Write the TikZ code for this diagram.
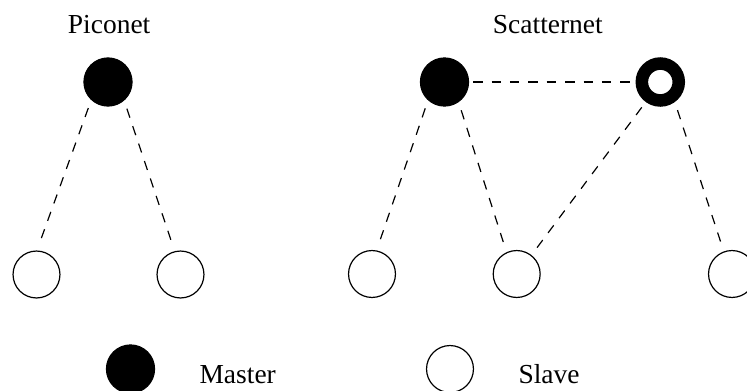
\documentclass[tikz,border=0pt]{standalone}
\usepackage{fontspec}
\setmainfont{Liberation Serif}
\begin{document}
\begin{tikzpicture}[x=0.75pt,y=-0.75pt,
  master/.style={circle,draw=black,fill=black,line width=0.75pt,inner sep=0pt,minimum size=36.2pt},
  slave/.style={circle,draw=black,fill=white,line width=0.9pt,inner sep=0pt,minimum size=35.2pt},
  bridge/.style={circle,draw=black,fill=white,line width=9.4pt,inner sep=0pt,minimum size=27.7pt},
  dashlink/.style={dash pattern=on 7.1pt off 6.7pt,line width=0.9pt,shorten <=6.4pt,shorten >=6.4pt},
  txt/.style={anchor=base west,inner sep=0pt,font=\fontsize{20.6pt}{24pt}\selectfont}]
\useasboundingbox (0,0) rectangle (747,390);

% Piconet: one master, two slaves
\node[txt] (tpico) at (67.7,33.3) {Piconet};
\node[master] (pm) at (108,82) {};
\node[slave] (ps1) at (36.5,274.5) {};
\node[slave] (ps2) at (180.5,274.5) {};
\draw[dashlink] (pm.227) -- (ps1.89);
\draw[dashlink] (pm.311) -- (ps2.104);

% Scatternet: two piconets joined by a master/slave bridge
\node[txt] (tscat) at (492.7,33.3) {Scatternet};
\node[master] (sm) at (444.5,82) {};
\node[bridge] (sb) at (660.3,82) {};
\node[slave] (ss1) at (372,274) {};
\node[slave] (ss2) at (516.7,274) {};
\node[slave] (ss3) at (732,274) {};
\draw[dashlink] (sm.228) -- (ss1.79);
\draw[dashlink] (sm.305) -- (ss2.115);
\draw[dashlink,shorten <=3pt,shorten >=3pt] (sm.east) -- (sb.west);
\draw[dashlink,shorten <=5pt,shorten >=5pt] (sb.234) -- (ss2.52);
\draw[dashlink] (sb.306) -- (ss3.110);

% Legend
\node[master] (lm) at (130.5,369) {};
\node[txt] (tm) at (199.3,383.3) {Master};
\node[slave] (ls) at (450,369) {};
\node[txt] (ts) at (518.3,383.3) {Slave};
\end{tikzpicture}
\end{document}
